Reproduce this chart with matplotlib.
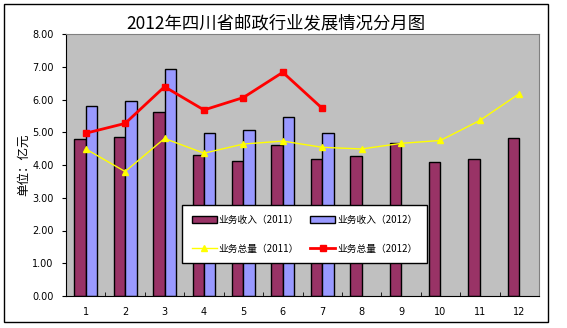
import matplotlib
matplotlib.use("Agg")
import matplotlib.pyplot as plt
from matplotlib.patches import Rectangle
import numpy as np

plt.rcParams['font.family'] = ['Noto Sans CJK SC', 'DejaVu Sans']

months = ['1', '2', '3', '4', '5', '6', '7', '8', '9', '10', '11', '12']
income_2011 = [4.80, 4.85, 5.62, 4.31, 4.12, 4.61, 4.18, 4.27, 4.66, 4.08, 4.18, 4.82]
income_2012 = [5.79, 5.95, 6.92, 4.97, 5.07, 5.46, 4.97]
total_2011 = [4.49, 3.80, 4.81, 4.36, 4.64, 4.73, 4.54, 4.49, 4.66, 4.75, 5.36, 6.18]
total_2012 = [4.97, 5.27, 6.39, 5.68, 6.06, 6.83, 5.73]

fig = plt.figure(figsize=(5.67, 3.28), dpi=100)
fig.patches.append(Rectangle((4 / 567, 1 - 322 / 328), 544 / 567, 318 / 328,
                             transform=fig.transFigure, fill=False,
                             edgecolor='black', linewidth=1))

ax = fig.add_axes([66 / 567, 1 - 296 / 328, 473 / 567, 262 / 328])
ax.set_facecolor('#C0C0C0')

x = np.arange(len(months))
w = 0.29
b1 = ax.bar(x[:len(income_2011)] - w / 2, income_2011, w, color='#993366',
            edgecolor='black', linewidth=1, zorder=2)
b2 = ax.bar(x[:len(income_2012)] + w / 2, income_2012, w, color='#9999FF',
            edgecolor='black', linewidth=1, zorder=2)
l1, = ax.plot(x[:len(total_2011)], total_2011, color='#FFFF00', linewidth=1,
              marker='^', markersize=5, zorder=3)
l2, = ax.plot(x[:len(total_2012)], total_2012, color='#FF0000', linewidth=2,
              marker='s', markersize=5, zorder=4)

ax.set_xlim(-0.5, len(months) - 0.5)
ax.set_ylim(0, 8)
ax.set_yticks(np.arange(0, 8.01, 1))
ax.set_yticklabels(['%.2f' % v for v in np.arange(0, 8.01, 1)],
                   fontsize=7, family='DejaVu Sans')
ax.set_xticks(x)
ax.set_xticklabels(months, fontsize=7, family='DejaVu Sans')
ax.set_xticks(np.arange(-0.5, len(months), 1), minor=True)
ax.tick_params(axis='x', which='major', length=0, pad=8)
ax.tick_params(axis='x', which='minor', length=3, direction='in')
ax.tick_params(axis='y', length=3, direction='out', pad=6)

for s in ['top', 'right']:
    ax.spines[s].set_color('#808080')
for s in ['left', 'bottom']:
    ax.spines[s].set_color('black')

ax.set_ylabel('单位：亿元', fontsize=9)
ax.yaxis.set_label_coords(-0.076, 0.5)
fig.text(276 / 567, 1 - 23 / 328, '2012年四川省邮政行业发展情况分月图',
         ha='center', va='center', fontsize=12.5)

# column-major fill: income row on top, totals below
handles = [b1, l1, b2, l2]
labels = ['业务收入（2011）', '业务总量（2011）', '业务收入（2012）', '业务总量（2012）']
leg = ax.legend(handles, labels, ncol=2,
                loc='lower left', mode='expand',
                bbox_to_anchor=(177 / 567, 1 - 268 / 328, 255 / 567, 58 / 328),
                bbox_transform=fig.transFigure, fontsize=7, frameon=True,
                fancybox=False, edgecolor='black', framealpha=1,
                labelspacing=1.9, handlelength=2.6, handletextpad=0.2,
                borderpad=1.0)
leg.get_frame().set_linewidth(1)

fig.savefig('out.png', dpi=100)
